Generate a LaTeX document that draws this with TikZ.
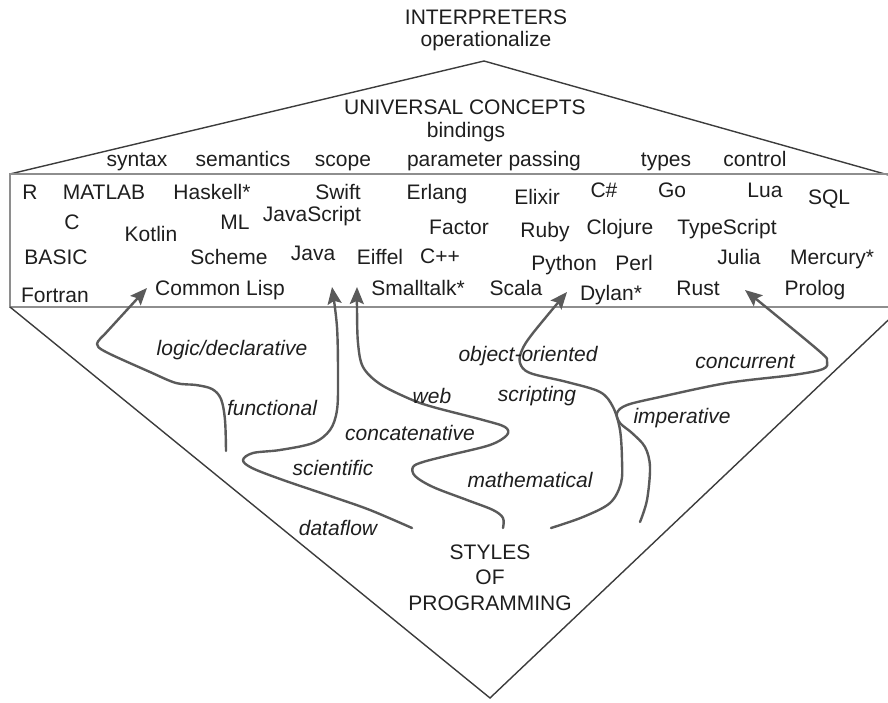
\documentclass[tikz,border=0pt]{standalone}
\usepackage{fontspec}
\setmainfont{Liberation Sans}
\usetikzlibrary{arrows.meta}
\definecolor{ink}{HTML}{1E1E1E}
\definecolor{edgegray}{HTML}{3C3C3C}
\definecolor{bandgray}{HTML}{8E8E8E}
\definecolor{flowgray}{HTML}{5A5A5A}
\begin{document}
\begin{tikzpicture}[x=1pt,y=-1pt,
  every node/.style={inner sep=0pt, outer sep=0pt, text=ink,
    font=\fontsize{21}{25.5}\selectfont},
  txt/.style={anchor=base},
  style label/.style={anchor=base, font=\fontsize{21}{25.5}\selectfont\itshape},
  frame/.style={draw=edgegray, line width=1.4pt},
  band/.style={draw=bandgray, line width=2pt},
  flow/.style={draw=flowgray, line width=2.4pt, line cap=round, line join=round,
    -{Stealth[length=17pt,width=14pt,inset=3pt]}},
  smoothflow/.style={smooth, tension=0.55}
]
\clip (0,0) rectangle (888,703);

% outline: roof, band of languages, and funnel
\coordinate (apex) at (484,61);
\coordinate (bandTL) at (10,174);
\coordinate (bandTR) at (905,174);
\coordinate (bandBL) at (10,307);
\coordinate (bandBR) at (905,307);
\coordinate (roofR) at (905,179.7);
\coordinate (tip) at (490,698);
\coordinate (funnelR) at (902,307);

\draw[frame] (bandTL) -- (apex) -- (roofR);
\draw[band] (bandTR) -- (bandTL) -- (bandBL) -- (bandBR);
\draw[frame] (bandBL) -- (tip) -- (funnelR);

% headings
\node[txt] (interp) at (486,25) {INTERPRETERS};
\node[txt] (oper) at (486,47) {operationalize};
\node[txt] (univ) at (465,115) {UNIVERSAL CONCEPTS};
\node[txt] (bind) at (466,138) {bindings};

% concepts
\node[txt] (c1) at (137,167) {syntax};
\node[txt] (c2) at (243,167) {semantics};
\node[txt] (c3) at (343,167) {scope};
\node[txt] (c4) at (494,167) {parameter passing};
\node[txt] (c5) at (666,167) {types};
\node[txt] (c6) at (755,167) {control};

% languages
\node[txt] (R) at (30,200) {R};
\node[txt] (matlab) at (104,200) {MATLAB};
\node[txt] (haskell) at (212,200) {Haskell*};
\node[txt] (swift) at (338,200) {Swift};
\node[txt] (erlang) at (437,200) {Erlang};
\node[txt] (elixir) at (537,205) {Elixir};
\node[txt] (csharp) at (604,198) {C\#};
\node[txt] (go) at (672,198) {Go};
\node[txt] (lua) at (765,198) {Lua};
\node[txt] (sql) at (829,205) {SQL};

\node[txt] (C) at (72,230) {C};
\node[txt] (kotlin) at (151,242) {Kotlin};
\node[txt] (ml) at (235,230) {ML};
\node[txt] (js) at (312,222) {JavaScript};
\node[txt] (factor) at (459,235) {Factor};
\node[txt] (ruby) at (545,238) {Ruby};
\node[txt] (clojure) at (620,235) {Clojure};
\node[txt] (ts) at (727,235) {TypeScript};

\node[txt] (basic) at (56,265) {BASIC};
\node[txt] (scheme) at (229,265) {Scheme};
\node[txt] (java) at (313,260) {Java};
\node[txt] (eiffel) at (380,265) {Eiffel};
\node[txt] (cpp) at (440,263) {C++};
\node[txt] (python) at (564,270) {Python};
\node[txt] (perl) at (634,270) {Perl};
\node[txt] (julia) at (739,265) {Julia};
\node[txt] (mercury) at (832,265) {Mercury*};

\node[txt] (fortran) at (55,302) {Fortran};
\node[txt] (lisp) at (220,295) {Common Lisp};
\node[txt] (smalltalk) at (418,295) {Smalltalk*};
\node[txt] (scala) at (516,295) {Scala};
\node[txt] (dylan) at (611,300) {Dylan*};
\node[txt] (rust) at (698,295) {Rust};
\node[txt] (prolog) at (815,295) {Prolog};

% styles of programming (base anchor sits on the last line)
\node[anchor=base, align=center] (sop) at (490,610) {STYLES\\OF\\PROGRAMMING};

% flow lines: start and arrow tip of each
\coordinate (lgS) at (226,451);
\coordinate (lgT) at (147,288);
\coordinate (fnS) at (412,528);
\coordinate (fnT) at (332,287);
\coordinate (wbS) at (503,528);
\coordinate (wbT) at (357,287);
\coordinate (ooS) at (551,528);
\coordinate (ooT) at (567,292);
\coordinate (imS) at (640,522);
\coordinate (imT) at (745,290);

\draw[flow] plot[smoothflow] coordinates {(lgS) (225,420) (221,399) (212,389)
  (196,385) (176,383) (150,372) (106,352) (97,344) (104,335)} -- (lgT);

\draw[flow] plot[smoothflow] coordinates {(fnS) (370,510) (333,497) (283,480)
  (252,468) (243,460) (253,453) (280,450) (313,443) (330,430) (337,410)
  (338,377) (337,327) (fnT)};

\draw[flow] plot[smoothflow] coordinates {(wbS) (503,518) (493,510) (467,500)
  (433,487) (415,476) (413,467) (423,462) (450,455) (490,445) (507,435)
  (505,427) (483,420) (433,407) (410,399) (380,384) (363,367) (358,343)
  (357,310) (wbT)};

\draw[flow] plot[smoothflow] coordinates {(ooS) (583,517) (610,503) (621,483)
  (622,460) (620,430) (613,407) (600,392) (567,382) (530,373) (520,363)
  (522,350) (533,333) (ooT)};

\draw[flow] plot[smoothflow] coordinates {(imS) (647,500) (650,467) (645,447)
  (632,433) (620,423) (617,413) (627,405) (660,397) (727,383) (793,375)
  (823,369) (827,361) (818,350) (imT)};

% style labels
\node[style label] (logic) at (232,355) {logic/declarative};
\node[style label] (functional) at (272,415) {functional};
\node[style label] (web) at (432,403) {web};
\node[style label] (concat) at (410,440) {concatenative};
\node[style label] (scientific) at (333,475) {scientific};
\node[style label] (math) at (530,487) {mathematical};
\node[style label] (dataflow) at (338,535) {dataflow};
\node[style label] (oo) at (528,361) {object-oriented};
\node[style label] (scripting) at (537,401) {scripting};
\node[style label] (imperative) at (682,423) {imperative};
\node[style label] (concurrent) at (745,368) {concurrent};
\end{tikzpicture}
\end{document}
